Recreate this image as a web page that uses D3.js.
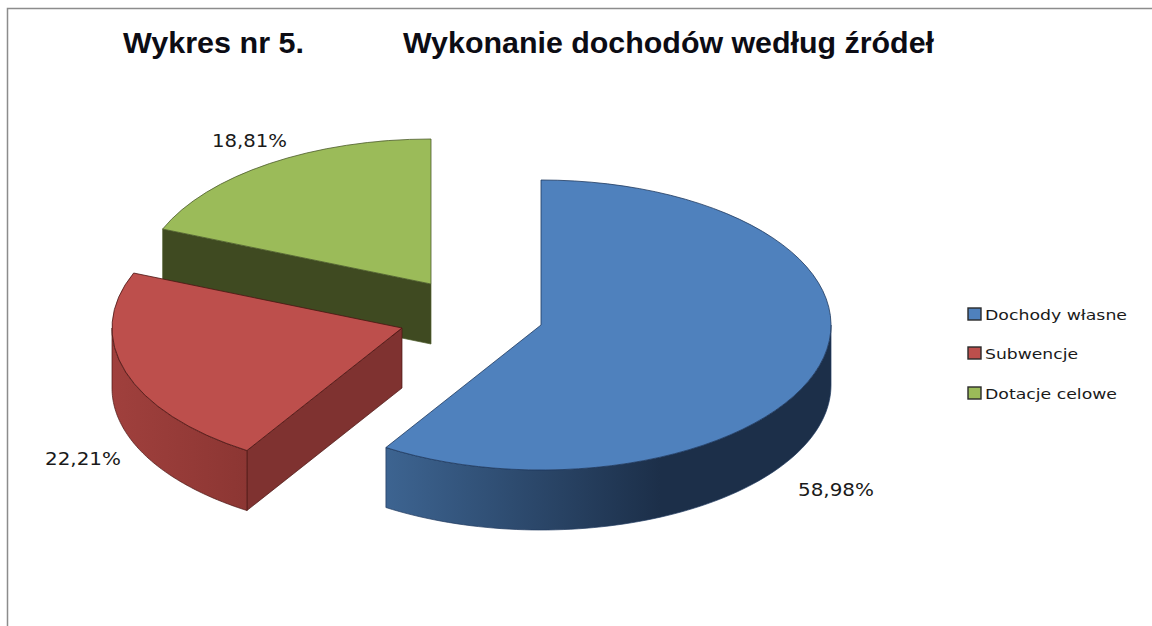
<!DOCTYPE html>
<html><head><meta charset="utf-8">
<script src="https://cdn.jsdelivr.net/npm/d3@7"></script>
<style>html,body{margin:0;padding:0;background:#fff}svg{display:block}</style>
</head><body><svg id="c" width="1152" height="626"></svg>
<script>
const categories = ["Dochody własne", "Subwencje", "Dotacje celowe"];
const values = [58.98, 22.21, 18.81];
const valueLabels = ["58,98%", "22,21%", "18,81%"];
const titleParts = ["Wykres nr 5.", "Wykonanie dochodów według źródeł"];
const colors = ["#4f81bd", "#bd4f4c", "#9bbb59"];
const cutColors = ["#3a5f8c", "#7f3230", "#3f4a21"];
const wallStart = ["#3d6491", "#a0403d", "#6f8a3f"];
const wallEnd = ["#1c2f49", "#8c3633", "#4f6030"];
const edgeColors = ["#1f3a5f", "#4a1513", "#4d5c2c"];
// layout of the exploded slices
const centers = [[541,325],[402,328],[431,284]];
const R = 290, K = 0.5, DEPTH = 60;
const labelPos = [[798,496,76],[45,465,76],[212,147,75]];
const legendY = [314,353,393];
const legendWidths = [142,93,132];

const svg = d3.select("#c");
svg.append("path").attr("d","M7.5,626V8.5H1152").attr("fill","none").attr("stroke","#8c8c8c").attr("stroke-width",1.5);

const arcs = d3.pie().sort(null)(values);
const arcGen = d3.arc().innerRadius(0).outerRadius(R);
const defs = svg.append("defs");
const px = (c,a)=>c[0]+R*Math.sin(a), py=(c,a,d=0)=>c[1]-R*K*Math.cos(a)+d;

// back-to-front: green, red, blue
[2,1,0].forEach(i=>{
  const a = arcs[i], c = centers[i];
  const g = svg.append("g");
  const cutAngle = i===0 ? null : a.startAngle;
  if(cutAngle!==null){
    g.append("path").attr("d",d3.line()([
      [c[0],c[1]],[px(c,cutAngle),py(c,cutAngle)],[px(c,cutAngle),py(c,cutAngle,DEPTH)],[c[0],c[1]+DEPTH]
    ])+"Z").attr("fill",cutColors[i]).attr("stroke",edgeColors[i]).attr("stroke-width",0.7);
  }
  const lo = Math.max(a.startAngle, Math.PI/2), hi = Math.min(a.endAngle, 3*Math.PI/2);
  if(hi>lo){
    const n=80, ang=d3.range(n+1).map(t=>lo+(hi-lo)*t/n);
    const pts=[...ang.map(t=>[px(c,t),py(c,t)]),...ang.slice().reverse().map(t=>[px(c,t),py(c,t,DEPTH)])];
    const gid="w"+i;
    const lg=defs.append("linearGradient").attr("id",gid).attr("gradientUnits","userSpaceOnUse")
      .attr("x1",i===0?386:111).attr("x2",i===0?660:247).attr("y1",0).attr("y2",0);
    lg.append("stop").attr("offset",0).attr("stop-color",wallStart[i]);
    lg.append("stop").attr("offset",1).attr("stop-color",wallEnd[i]);
    g.append("path").attr("d",d3.line()(pts)+"Z").attr("fill",`url(#${gid})`).attr("stroke",edgeColors[i]).attr("stroke-width",0.7);
  }
  g.append("path").attr("transform",`translate(${c[0]},${c[1]}) scale(1,${K})`)
    .attr("d",arcGen(a)).attr("fill",colors[i]).attr("stroke",edgeColors[i]).attr("stroke-width",0.8)
    .attr("vector-effect","non-scaling-stroke");
});

// title
[[123,181],[403,531]].forEach((p,i)=>{
  svg.append("text").attr("x",p[0]).attr("y",53).attr("textLength",p[1]).attr("lengthAdjust","spacingAndGlyphs")
    .attr("font-family","Liberation Sans").attr("font-weight","bold").attr("font-size",30).attr("fill","#0c0c14").text(titleParts[i]);
});

// data labels
valueLabels.forEach((t,i)=>{
  svg.append("text").attr("x",labelPos[i][0]).attr("y",labelPos[i][1]).attr("textLength",labelPos[i][2]).attr("lengthAdjust","spacingAndGlyphs")
    .attr("font-family","DejaVu Sans").attr("font-size",17).attr("fill","#1a1a1a").text(t);
});

// legend
categories.forEach((t,i)=>{
  svg.append("rect").attr("x",968).attr("y",legendY[i]-6).attr("width",13).attr("height",12)
    .attr("fill",colors[i]).attr("stroke","#2a2a2a").attr("stroke-width",1.4);
  svg.append("text").attr("x",985).attr("y",legendY[i]+6).attr("textLength",legendWidths[i]).attr("lengthAdjust","spacingAndGlyphs")
    .attr("font-family","DejaVu Sans").attr("font-size",14.5).attr("fill","#1a1a1a").text(t);
});
</script></body></html>
